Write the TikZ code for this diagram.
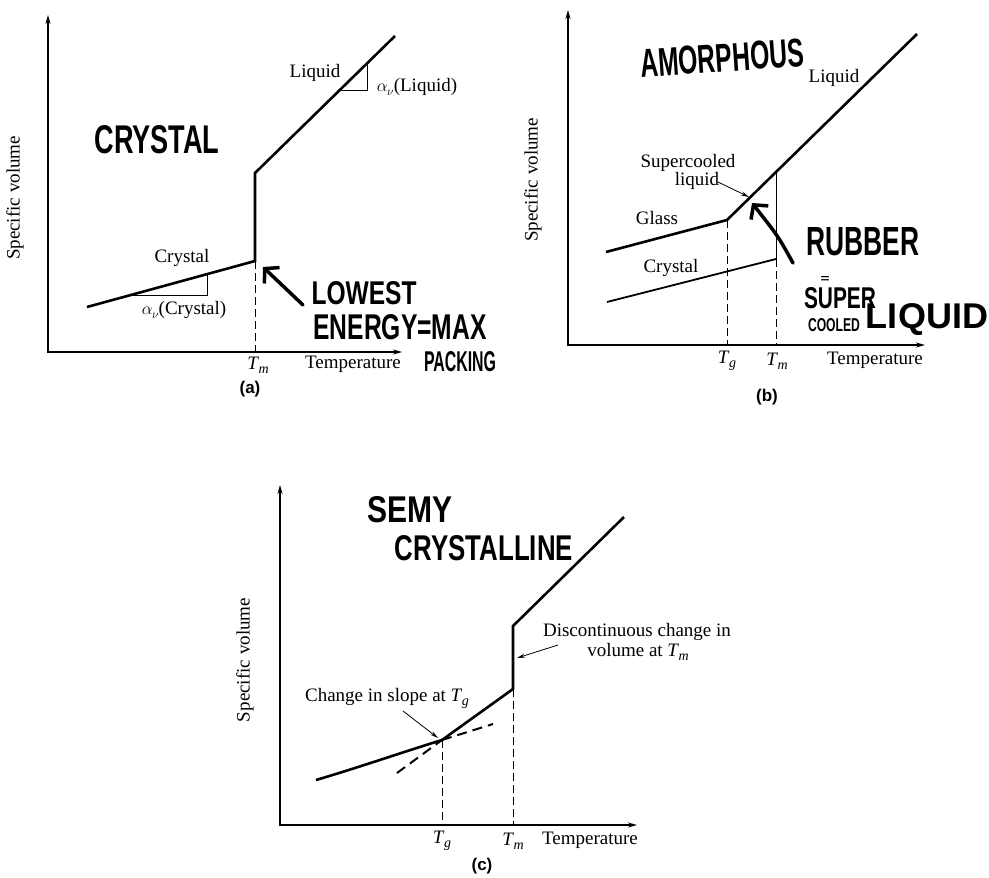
\documentclass[tikz,border=0pt]{standalone}
\usepackage{graphicx}
\usepackage{fontspec}
\setmainfont{Liberation Serif}
\newfontfamily\handfont{Liberation Sans}
\newfontfamily\capfont{Liberation Sans}
\usetikzlibrary{arrows.meta}
\newcommand\Tsym[1]{\textit{T}\kern-0.5pt\raisebox{-4pt}{\fontsize{14}{14}\selectfont\textit{#1}}}
\newcommand\alsym{$\alpha$\kern-0.5pt\raisebox{-4pt}{\fontsize{13}{13}\selectfont$\nu$}}
\begin{document}
\begin{tikzpicture}[x=1pt,y=-1pt,
 axes/.style={line width=1.3pt,{Stealth[length=9pt,width=5pt]}-{Stealth[length=9pt,width=5pt]}},
 curve/.style={line width=2.6pt,line join=miter},
 thinline/.style={line width=0.9pt},
 guide/.style={line width=0.9pt,dash pattern=on 8pt off 4pt},
 tangent/.style={line width=2pt,dash pattern=on 10pt off 6pt},
 lbl/.style={font=\fontsize{19}{21}\selectfont,inner sep=0pt},
 panelcap/.style={font=\capfont\bfseries\fontsize{17}{19}\selectfont,inner sep=0pt},
 hw/.style={font=\handfont\bfseries,inner sep=0pt},
 hwarrow/.style={line width=3.5pt,line cap=round,-{Straight Barb[length=10pt,width=22pt,line width=3.5pt]}},
 note/.style={line width=0.8pt,-{Stealth[length=8pt,width=4pt]}}
]
\useasboundingbox (0,0) rectangle (989,878);

% ---------------- panel (a)
\coordinate (aO) at (48,352);
\coordinate (aY) at (48,15);
\coordinate (aX) at (402,352);
\draw[axes] (aY) -- (aO) -- (aX);
\coordinate (a1) at (87,307);
\coordinate (a2) at (255,261);
\coordinate (a3) at (255,173);
\coordinate (a4) at (395,36);
\coordinate (aTm) at (255,352);
\draw[curve] (a1) -- (a2) -- (a3) -- (a4);
\draw[guide] (a2) -- (aTm);
\coordinate (at1) at (131,295);
\coordinate (at2) at (207,295);
\coordinate (at3) at (207,274);
\draw[thinline] (at1) -- (at2) -- (at3);
\coordinate (al1) at (340,90);
\coordinate (al2) at (367,90);
\coordinate (al3) at (367,63);
\draw[thinline] (al1) -- (al2) -- (al3);
\node[lbl] (aLiq) at (315,73) {Liquid};
\node[lbl] (aAlphaL) at (417,87) {\alsym(Liquid)};
\node[lbl] (aCry) at (182,258) {Crystal};
\node[lbl] (aAlphaC) at (184,310) {\alsym(Crystal)};
\node[lbl] (aTmL) at (258,365) {\Tsym{m}};
\node[lbl] (aTemp) at (353,364) {Temperature};
\node[panelcap] (aCap) at (250,389) {(a)};
\node[lbl,rotate=90] (aSV) at (15,198) {Specific volume};
\node[hw] (aHW) at (157,140) {\resizebox{125pt}{28pt}{CRYSTAL}};
\coordinate (aArS) at (303,305);
\coordinate (aArE) at (263,267);
\draw[hwarrow] (aArS) -- (aArE);
\node[hw] (aLow) at (364,293) {\resizebox{105pt}{23pt}{LOWEST}};
\node[hw] (aEn) at (400,327) {\resizebox{173pt}{25pt}{ENERGY=MAX}};
\node[hw] (aPack) at (460,362) {\resizebox{72pt}{20pt}{PACKING}};

% ---------------- panel (b)
\coordinate (bO) at (568,345);
\coordinate (bY) at (568,10);
\coordinate (bX) at (925,345);
\draw[axes] (bY) -- (bO) -- (bX);
\coordinate (b1) at (606,252);
\coordinate (b2) at (727,220);
\coordinate (b3) at (917,34);
\draw[curve] (b1) -- (b2) -- (b3);
\coordinate (bc1) at (607,302);
\coordinate (bc2) at (776,259);
\draw[line width=1.8pt] (bc1) -- (bc2);
\coordinate (bc3) at (776,172);
\draw[thinline] (bc2) -- (bc3);
\coordinate (bTg) at (727,345);
\coordinate (bTm) at (776,345);
\draw[guide] (b2) -- (bTg);
\draw[guide] (bc2) -- (bTm);
\node[lbl] (bLiq) at (834,78) {Liquid};
\node[lbl] (bSup) at (688,163) {Supercooled};
\node[lbl] (bSup2) at (697,181) {liquid};
\coordinate (bnS) at (718,182);
\coordinate (bnE) at (749,197);
\draw[note] (bnS) -- (bnE);
\node[lbl] (bGl) at (657,218) {Glass};
\node[lbl] (bCr) at (671,268) {Crystal};
\node[lbl] (bTgL) at (727,361) {\Tsym{g}};
\node[lbl] (bTmL) at (777,361) {\Tsym{m}};
\node[lbl] (bTemp) at (875,360) {Temperature};
\node[panelcap] (bCap) at (767,397) {(b)};
\node[lbl,rotate=90] (bSV) at (533,180) {Specific volume};
\node[hw,rotate=4] (bHW) at (722,58) {\resizebox{164pt}{28pt}{AMORPHOUS}};
\coordinate (bArS) at (793,263);
\coordinate (bArM) at (778,236);
\coordinate (bArE) at (752,203);
\draw[hwarrow] (bArS) .. controls (bArM) .. (bArE);
\node[hw] (bRub) at (863,242) {\resizebox{113pt}{28pt}{RUBBER}};
\node[hw] (bEq) at (825,279) {\resizebox{9pt}{6pt}{=}};
\node[hw] (bSuper) at (840,298) {\resizebox{72pt}{21pt}{SUPER}};
\node[hw] (bCooled) at (834,325) {\resizebox{52pt}{13pt}{COOLED}};
\node[hw] (bLiquid) at (927,320) {\resizebox{122pt}{25pt}{LIQUID}};

% ---------------- panel (c)
\coordinate (cO) at (280,825);
\coordinate (cY) at (280,485);
\coordinate (cX) at (637,825);
\draw[axes] (cY) -- (cO) -- (cX);
\coordinate (c1) at (316,780);
\coordinate (c1a) at (360,767);
\coordinate (c1b) at (400,753);
\coordinate (c2) at (442,740);
\coordinate (c3) at (513,689);
\coordinate (c4) at (513,626);
\coordinate (c5) at (624,517);
\draw[curve] (c1) .. controls (c1a) and (c1b) .. (c2) -- (c3) -- (c4) -- (c5);
\coordinate (ct1) at (397,773);
\coordinate (ct2) at (493,724);
\draw[tangent] (ct1) -- (c2);
\draw[tangent] (c2) -- (ct2);
\coordinate (cTg) at (442,825);
\coordinate (cTm) at (513,825);
\draw[guide] (c2) -- (cTg);
\draw[guide] (c3) -- (cTm);
\node[lbl] (cSlope) at (387,698) {Change in slope at \Tsym{g}};
\coordinate (cnS) at (403,711);
\coordinate (cnE) at (438,738);
\draw[note] (cnS) -- (cnE);
\node[lbl] (cDis) at (637,632) {Discontinuous change in};
\node[lbl] (cDis2) at (638,652) {volume at \Tsym{m}};
\coordinate (cdS) at (558,645);
\coordinate (cdE) at (517,658);
\draw[note] (cdS) -- (cdE);
\node[lbl] (cTgL) at (442,841) {\Tsym{g}};
\node[lbl] (cTmL) at (513,841) {\Tsym{m}};
\node[lbl] (cTemp) at (590,840) {Temperature};
\node[panelcap] (cCap) at (482,866) {(c)};
\node[lbl,rotate=90] (cSV) at (245,660) {Specific volume};
\node[hw] (cSemy) at (410,510) {\resizebox{85pt}{26pt}{SEMY}};
\node[hw] (cCryst) at (484,548) {\resizebox{178pt}{25pt}{CRYSTALLINE}};
\end{tikzpicture}
\end{document}
